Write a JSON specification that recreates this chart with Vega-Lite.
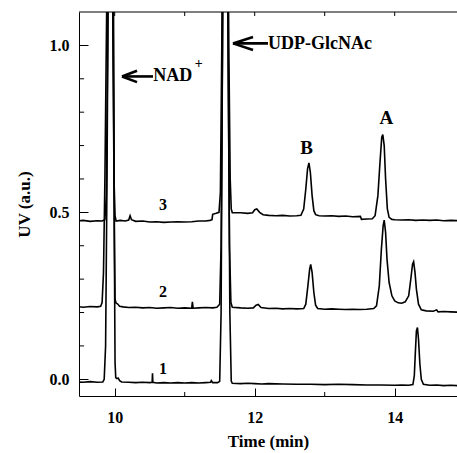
{
  "$schema": "https://vega.github.io/schema/vega-lite/v6.json",
  "width": 378,
  "height": 384,
  "autosize": {"type": "none"},
  "padding": {"left": 79, "top": 12, "right": 0, "bottom": 57},
  "background": "white",
  "config": {
    "view": {"stroke": null},
    "font": "Liberation Serif",
    "axis": {
      "domainColor": "black",
      "domainWidth": 1,
      "tickColor": "black",
      "tickWidth": 1,
      "labelFont": "Liberation Serif",
      "labelFontWeight": "bold",
      "labelFontSize": 16,
      "labelColor": "black",
      "titleFont": "Liberation Serif",
      "titleFontWeight": "bold",
      "titleFontSize": 17,
      "titleColor": "black",
      "grid": false
    }
  },
  "datasets": {
    "traces": [
      {"s": 1, "t": 9.45, "v": -0.008}, {"s": 1, "t": 9.55, "v": -0.009}, {"s": 1, "t": 9.65, "v": -0.007}, {"s": 1, "t": 9.75, "v": -0.009}, {"s": 1, "t": 9.83, "v": -0.008}, {"s": 1, "t": 9.85, "v": 0.0}, {"s": 1, "t": 9.87, "v": 0.1}, {"s": 1, "t": 9.89, "v": 0.6}, {"s": 1, "t": 9.91, "v": 1.3}, {"s": 1, "t": 9.945, "v": 2.5}, {"s": 1, "t": 9.98, "v": 1.3}, {"s": 1, "t": 9.995, "v": 0.4}, {"s": 1, "t": 10.005, "v": 0.05}, {"s": 1, "t": 10.015, "v": 0.005}, {"s": 1, "t": 10.03, "v": 0.002}, {"s": 1, "t": 10.05, "v": 0.004}, {"s": 1, "t": 10.07, "v": -0.004}, {"s": 1, "t": 10.1, "v": -0.008}, {"s": 1, "t": 10.2, "v": -0.009}, {"s": 1, "t": 10.3, "v": -0.01}, {"s": 1, "t": 10.4, "v": -0.009}, {"s": 1, "t": 10.5, "v": -0.01}, {"s": 1, "t": 10.535, "v": -0.009}, {"s": 1, "t": 10.54, "v": 0.018}, {"s": 1, "t": 10.545, "v": -0.009}, {"s": 1, "t": 10.6, "v": -0.011}, {"s": 1, "t": 10.7, "v": -0.01}, {"s": 1, "t": 10.8, "v": -0.011}, {"s": 1, "t": 10.9, "v": -0.01}, {"s": 1, "t": 11.0, "v": -0.011}, {"s": 1, "t": 11.1, "v": -0.01}, {"s": 1, "t": 11.2, "v": -0.011}, {"s": 1, "t": 11.3, "v": -0.01}, {"s": 1, "t": 11.37, "v": -0.009}, {"s": 1, "t": 11.38, "v": -0.004}, {"s": 1, "t": 11.4, "v": -0.01}, {"s": 1, "t": 11.47, "v": -0.01}, {"s": 1, "t": 11.5, "v": -0.006}, {"s": 1, "t": 11.52, "v": 0.2}, {"s": 1, "t": 11.54, "v": 1.0}, {"s": 1, "t": 11.58, "v": 2.6}, {"s": 1, "t": 11.62, "v": 1.0}, {"s": 1, "t": 11.645, "v": 0.2}, {"s": 1, "t": 11.665, "v": -0.005}, {"s": 1, "t": 11.68, "v": -0.012}, {"s": 1, "t": 11.8, "v": -0.013}, {"s": 1, "t": 11.9, "v": -0.012}, {"s": 1, "t": 12.0, "v": -0.013}, {"s": 1, "t": 12.1, "v": -0.014}, {"s": 1, "t": 12.2, "v": -0.013}, {"s": 1, "t": 12.4, "v": -0.014}, {"s": 1, "t": 12.6, "v": -0.015}, {"s": 1, "t": 12.8, "v": -0.015}, {"s": 1, "t": 13.0, "v": -0.016}, {"s": 1, "t": 13.2, "v": -0.015}, {"s": 1, "t": 13.4, "v": -0.016}, {"s": 1, "t": 13.6, "v": -0.017}, {"s": 1, "t": 13.8, "v": -0.017}, {"s": 1, "t": 14.0, "v": -0.018}, {"s": 1, "t": 14.1, "v": -0.017}, {"s": 1, "t": 14.2, "v": -0.018}, {"s": 1, "t": 14.26, "v": -0.016}, {"s": 1, "t": 14.28, "v": 0.01}, {"s": 1, "t": 14.295, "v": 0.08}, {"s": 1, "t": 14.31, "v": 0.145}, {"s": 1, "t": 14.325, "v": 0.155}, {"s": 1, "t": 14.34, "v": 0.12}, {"s": 1, "t": 14.36, "v": 0.045}, {"s": 1, "t": 14.38, "v": 0.0}, {"s": 1, "t": 14.41, "v": -0.015}, {"s": 1, "t": 14.5, "v": -0.018}, {"s": 1, "t": 14.6, "v": -0.017}, {"s": 1, "t": 14.7, "v": -0.019}, {"s": 1, "t": 14.8, "v": -0.018}, {"s": 1, "t": 14.9, "v": -0.019},

      {"s": 2, "t": 9.45, "v": 0.218}, {"s": 2, "t": 9.55, "v": 0.216}, {"s": 2, "t": 9.65, "v": 0.218}, {"s": 2, "t": 9.75, "v": 0.217}, {"s": 2, "t": 9.8, "v": 0.219}, {"s": 2, "t": 9.82, "v": 0.23}, {"s": 2, "t": 9.84, "v": 0.32}, {"s": 2, "t": 9.86, "v": 0.6}, {"s": 2, "t": 9.89, "v": 1.2}, {"s": 2, "t": 9.94, "v": 2.5}, {"s": 2, "t": 9.98, "v": 1.0}, {"s": 2, "t": 9.995, "v": 0.45}, {"s": 2, "t": 10.005, "v": 0.24}, {"s": 2, "t": 10.02, "v": 0.228}, {"s": 2, "t": 10.04, "v": 0.226}, {"s": 2, "t": 10.07, "v": 0.219}, {"s": 2, "t": 10.12, "v": 0.217}, {"s": 2, "t": 10.2, "v": 0.215}, {"s": 2, "t": 10.3, "v": 0.216}, {"s": 2, "t": 10.4, "v": 0.214}, {"s": 2, "t": 10.5, "v": 0.215}, {"s": 2, "t": 10.6, "v": 0.213}, {"s": 2, "t": 10.7, "v": 0.214}, {"s": 2, "t": 10.8, "v": 0.215}, {"s": 2, "t": 10.9, "v": 0.213}, {"s": 2, "t": 11.0, "v": 0.214}, {"s": 2, "t": 11.1, "v": 0.213}, {"s": 2, "t": 11.11, "v": 0.232}, {"s": 2, "t": 11.12, "v": 0.213}, {"s": 2, "t": 11.2, "v": 0.214}, {"s": 2, "t": 11.3, "v": 0.215}, {"s": 2, "t": 11.4, "v": 0.214}, {"s": 2, "t": 11.46, "v": 0.216}, {"s": 2, "t": 11.5, "v": 0.225}, {"s": 2, "t": 11.52, "v": 0.4}, {"s": 2, "t": 11.54, "v": 1.0}, {"s": 2, "t": 11.58, "v": 2.6}, {"s": 2, "t": 11.62, "v": 1.0}, {"s": 2, "t": 11.64, "v": 0.4}, {"s": 2, "t": 11.66, "v": 0.23}, {"s": 2, "t": 11.68, "v": 0.216}, {"s": 2, "t": 11.8, "v": 0.214}, {"s": 2, "t": 11.9, "v": 0.213}, {"s": 2, "t": 11.98, "v": 0.214}, {"s": 2, "t": 12.02, "v": 0.222}, {"s": 2, "t": 12.05, "v": 0.224}, {"s": 2, "t": 12.09, "v": 0.215}, {"s": 2, "t": 12.2, "v": 0.212}, {"s": 2, "t": 12.3, "v": 0.213}, {"s": 2, "t": 12.4, "v": 0.211}, {"s": 2, "t": 12.5, "v": 0.212}, {"s": 2, "t": 12.6, "v": 0.211}, {"s": 2, "t": 12.7, "v": 0.212}, {"s": 2, "t": 12.73, "v": 0.225}, {"s": 2, "t": 12.76, "v": 0.28}, {"s": 2, "t": 12.785, "v": 0.33}, {"s": 2, "t": 12.8, "v": 0.344}, {"s": 2, "t": 12.82, "v": 0.32}, {"s": 2, "t": 12.845, "v": 0.26}, {"s": 2, "t": 12.87, "v": 0.222}, {"s": 2, "t": 12.9, "v": 0.212}, {"s": 2, "t": 13.0, "v": 0.21}, {"s": 2, "t": 13.1, "v": 0.211}, {"s": 2, "t": 13.2, "v": 0.21}, {"s": 2, "t": 13.3, "v": 0.209}, {"s": 2, "t": 13.4, "v": 0.21}, {"s": 2, "t": 13.5, "v": 0.209}, {"s": 2, "t": 13.6, "v": 0.21}, {"s": 2, "t": 13.7, "v": 0.212}, {"s": 2, "t": 13.74, "v": 0.22}, {"s": 2, "t": 13.78, "v": 0.28}, {"s": 2, "t": 13.81, "v": 0.39}, {"s": 2, "t": 13.835, "v": 0.46}, {"s": 2, "t": 13.85, "v": 0.477}, {"s": 2, "t": 13.87, "v": 0.44}, {"s": 2, "t": 13.89, "v": 0.36}, {"s": 2, "t": 13.92, "v": 0.29}, {"s": 2, "t": 13.96, "v": 0.25}, {"s": 2, "t": 14.0, "v": 0.235}, {"s": 2, "t": 14.05, "v": 0.229}, {"s": 2, "t": 14.1, "v": 0.228}, {"s": 2, "t": 14.15, "v": 0.232}, {"s": 2, "t": 14.2, "v": 0.25}, {"s": 2, "t": 14.23, "v": 0.3}, {"s": 2, "t": 14.255, "v": 0.345}, {"s": 2, "t": 14.27, "v": 0.352}, {"s": 2, "t": 14.29, "v": 0.32}, {"s": 2, "t": 14.31, "v": 0.27}, {"s": 2, "t": 14.34, "v": 0.225}, {"s": 2, "t": 14.38, "v": 0.208}, {"s": 2, "t": 14.45, "v": 0.205}, {"s": 2, "t": 14.55, "v": 0.204}, {"s": 2, "t": 14.6, "v": 0.208}, {"s": 2, "t": 14.62, "v": 0.202}, {"s": 2, "t": 14.7, "v": 0.203}, {"s": 2, "t": 14.8, "v": 0.202}, {"s": 2, "t": 14.9, "v": 0.201},

      {"s": 3, "t": 9.45, "v": 0.474}, {"s": 3, "t": 9.55, "v": 0.476}, {"s": 3, "t": 9.65, "v": 0.473}, {"s": 3, "t": 9.75, "v": 0.475}, {"s": 3, "t": 9.82, "v": 0.474}, {"s": 3, "t": 9.86, "v": 0.478}, {"s": 3, "t": 9.88, "v": 0.55}, {"s": 3, "t": 9.9, "v": 1.0}, {"s": 3, "t": 9.94, "v": 2.5}, {"s": 3, "t": 9.975, "v": 1.0}, {"s": 3, "t": 9.99, "v": 0.6}, {"s": 3, "t": 10.005, "v": 0.49}, {"s": 3, "t": 10.02, "v": 0.474}, {"s": 3, "t": 10.08, "v": 0.476}, {"s": 3, "t": 10.15, "v": 0.474}, {"s": 3, "t": 10.2, "v": 0.477}, {"s": 3, "t": 10.22, "v": 0.49}, {"s": 3, "t": 10.24, "v": 0.478}, {"s": 3, "t": 10.3, "v": 0.473}, {"s": 3, "t": 10.4, "v": 0.474}, {"s": 3, "t": 10.5, "v": 0.471}, {"s": 3, "t": 10.6, "v": 0.472}, {"s": 3, "t": 10.7, "v": 0.47}, {"s": 3, "t": 10.8, "v": 0.471}, {"s": 3, "t": 10.9, "v": 0.472}, {"s": 3, "t": 11.0, "v": 0.471}, {"s": 3, "t": 11.1, "v": 0.472}, {"s": 3, "t": 11.2, "v": 0.474}, {"s": 3, "t": 11.3, "v": 0.474}, {"s": 3, "t": 11.36, "v": 0.476}, {"s": 3, "t": 11.39, "v": 0.478}, {"s": 3, "t": 11.4, "v": 0.494}, {"s": 3, "t": 11.45, "v": 0.497}, {"s": 3, "t": 11.49, "v": 0.5}, {"s": 3, "t": 11.51, "v": 0.56}, {"s": 3, "t": 11.53, "v": 1.0}, {"s": 3, "t": 11.58, "v": 2.6}, {"s": 3, "t": 11.63, "v": 1.0}, {"s": 3, "t": 11.65, "v": 0.6}, {"s": 3, "t": 11.665, "v": 0.51}, {"s": 3, "t": 11.68, "v": 0.499}, {"s": 3, "t": 11.8, "v": 0.499}, {"s": 3, "t": 11.9, "v": 0.497}, {"s": 3, "t": 11.97, "v": 0.499}, {"s": 3, "t": 12.0, "v": 0.508}, {"s": 3, "t": 12.03, "v": 0.51}, {"s": 3, "t": 12.07, "v": 0.5}, {"s": 3, "t": 12.12, "v": 0.493}, {"s": 3, "t": 12.2, "v": 0.491}, {"s": 3, "t": 12.3, "v": 0.49}, {"s": 3, "t": 12.4, "v": 0.491}, {"s": 3, "t": 12.5, "v": 0.489}, {"s": 3, "t": 12.6, "v": 0.49}, {"s": 3, "t": 12.66, "v": 0.491}, {"s": 3, "t": 12.7, "v": 0.51}, {"s": 3, "t": 12.73, "v": 0.57}, {"s": 3, "t": 12.755, "v": 0.63}, {"s": 3, "t": 12.775, "v": 0.648}, {"s": 3, "t": 12.795, "v": 0.62}, {"s": 3, "t": 12.82, "v": 0.55}, {"s": 3, "t": 12.845, "v": 0.505}, {"s": 3, "t": 12.87, "v": 0.493}, {"s": 3, "t": 12.92, "v": 0.49}, {"s": 3, "t": 13.0, "v": 0.489}, {"s": 3, "t": 13.1, "v": 0.49}, {"s": 3, "t": 13.2, "v": 0.488}, {"s": 3, "t": 13.3, "v": 0.489}, {"s": 3, "t": 13.4, "v": 0.487}, {"s": 3, "t": 13.51, "v": 0.488}, {"s": 3, "t": 13.525, "v": 0.479}, {"s": 3, "t": 13.6, "v": 0.48}, {"s": 3, "t": 13.68, "v": 0.481}, {"s": 3, "t": 13.72, "v": 0.49}, {"s": 3, "t": 13.76, "v": 0.55}, {"s": 3, "t": 13.79, "v": 0.65}, {"s": 3, "t": 13.815, "v": 0.725}, {"s": 3, "t": 13.83, "v": 0.733}, {"s": 3, "t": 13.85, "v": 0.7}, {"s": 3, "t": 13.87, "v": 0.6}, {"s": 3, "t": 13.895, "v": 0.51}, {"s": 3, "t": 13.92, "v": 0.485}, {"s": 3, "t": 13.96, "v": 0.479}, {"s": 3, "t": 14.0, "v": 0.478}, {"s": 3, "t": 14.1, "v": 0.477}, {"s": 3, "t": 14.2, "v": 0.478}, {"s": 3, "t": 14.3, "v": 0.476}, {"s": 3, "t": 14.4, "v": 0.477}, {"s": 3, "t": 14.5, "v": 0.476}, {"s": 3, "t": 14.6, "v": 0.477}, {"s": 3, "t": 14.7, "v": 0.475}, {"s": 3, "t": 14.8, "v": 0.476}, {"s": 3, "t": 14.9, "v": 0.475}
    ],
    "arrows": [
      {"seg": "n1", "t": 10.319, "v": 0.924}, {"seg": "n1", "t": 10.104, "v": 0.907},
      {"seg": "n2", "t": 10.319, "v": 0.89}, {"seg": "n2", "t": 10.104, "v": 0.907},
      {"seg": "n3", "t": 10.104, "v": 0.907}, {"seg": "n3", "t": 10.547, "v": 0.907},
      {"seg": "u1", "t": 11.976, "v": 1.025}, {"seg": "u1", "t": 11.69, "v": 1.006},
      {"seg": "u2", "t": 11.976, "v": 0.986}, {"seg": "u2", "t": 11.69, "v": 1.006},
      {"seg": "u3", "t": 11.69, "v": 1.006}, {"seg": "u3", "t": 12.19, "v": 1.006}
    ],
    "topticks": [
      {"t": 10}, {"t": 11}, {"t": 12}, {"t": 13}, {"t": 14}
    ],
    "xminor": [
      {"t": 11}, {"t": 13}
    ],
    "yminor": [
      {"v": 0.1}, {"v": 0.2}, {"v": 0.3}, {"v": 0.4}, {"v": 0.6}, {"v": 0.7}, {"v": 0.8}, {"v": 0.9}
    ],
    "nums": [
      {"t": 10.69, "v": 0.522, "label": "3"},
      {"t": 10.69, "v": 0.262, "label": "2"},
      {"t": 10.69, "v": 0.032, "label": "1"}
    ],
    "peaks": [
      {"t": 12.74, "v": 0.693, "label": "B"},
      {"t": 13.88, "v": 0.783, "label": "A"}
    ],
    "names": [
      {"t": 10.55, "v": 0.892, "label": "NAD"},
      {"t": 12.19, "v": 0.988, "label": "UDP-GlcNAc"}
    ],
    "sup": [
      {"t": 11.2, "v": 0.945, "label": "+"}
    ]
  },
  "layer": [
    {
      "data": {"name": "traces"},
      "mark": {"type": "line", "clip": true, "color": "black", "strokeWidth": 1.6, "interpolate": "linear"},
      "encoding": {
        "x": {"field": "t", "type": "quantitative",
              "scale": {"domain": [9.49, 14.89], "nice": false, "zero": false},
              "axis": {"orient": "bottom", "values": [10, 12, 14], "format": "d",
                       "labelFlush": false, "tickSize": -8,
                       "labelPadding": 21, "title": "Time (min)", "titlePadding": 8}},
        "y": {"field": "v", "type": "quantitative",
              "scale": {"domain": [-0.05, 1.1], "nice": false, "zero": false},
              "axis": {"orient": "left", "values": [0, 0.5, 1.0], "format": ".1f",
                       "tickSize": -9,
                       "labelPadding": 19, "title": "UV (a.u.)", "titlePadding": 16}},
        "detail": {"field": "s", "type": "nominal"}
      }
    },
    {
      "data": {"name": "arrows"},
      "mark": {"type": "line", "clip": true, "color": "black", "strokeWidth": 2.6},
      "encoding": {
        "x": {"field": "t", "type": "quantitative"},
        "y": {"field": "v", "type": "quantitative"},
        "detail": {"field": "seg", "type": "nominal"}
      }
    },
    {
      "data": {"name": "topticks"},
      "mark": {"type": "rule", "color": "black", "strokeWidth": 1},
      "encoding": {
        "x": {"field": "t", "type": "quantitative"},
        "y": {"datum": 1.1},
        "y2": {"datum": 1.088}
      }
    },
    {
      "data": {"name": "xminor"},
      "mark": {"type": "rule", "color": "black", "strokeWidth": 1},
      "encoding": {
        "x": {"field": "t", "type": "quantitative"},
        "y": {"datum": -0.05},
        "y2": {"datum": -0.038}
      }
    },
    {
      "data": {"name": "yminor"},
      "mark": {"type": "rule", "color": "black", "strokeWidth": 1},
      "encoding": {
        "y": {"field": "v", "type": "quantitative"},
        "x": {"datum": 9.49},
        "x2": {"datum": 9.563}
      }
    },
    {
      "data": {"values": [{}]},
      "mark": {"type": "rule", "color": "black", "strokeWidth": 1},
      "encoding": {
        "x": {"datum": 9.49},
        "x2": {"datum": 14.89},
        "y": {"datum": 1.1}
      }
    },
    {
      "data": {"name": "nums"},
      "mark": {"type": "text", "font": "Liberation Serif", "fontWeight": "bold", "fontSize": 16, "fill": "black", "align": "center", "baseline": "middle"},
      "encoding": {
        "x": {"field": "t", "type": "quantitative"},
        "y": {"field": "v", "type": "quantitative"},
        "text": {"field": "label"}
      }
    },
    {
      "data": {"name": "peaks"},
      "mark": {"type": "text", "font": "Liberation Serif", "fontWeight": "bold", "fontSize": 19, "fill": "black", "align": "center", "baseline": "middle"},
      "encoding": {
        "x": {"field": "t", "type": "quantitative"},
        "y": {"field": "v", "type": "quantitative"},
        "text": {"field": "label"}
      }
    },
    {
      "data": {"name": "names"},
      "mark": {"type": "text", "font": "Liberation Serif", "fontWeight": "bold", "fontSize": 18, "fill": "black", "align": "left", "baseline": "alphabetic"},
      "encoding": {
        "x": {"field": "t", "type": "quantitative"},
        "y": {"field": "v", "type": "quantitative"},
        "text": {"field": "label"}
      }
    },
    {
      "data": {"name": "sup"},
      "mark": {"type": "text", "font": "Liberation Serif", "fontWeight": "bold", "fontSize": 14, "fill": "black", "align": "center", "baseline": "middle"},
      "encoding": {
        "x": {"field": "t", "type": "quantitative"},
        "y": {"field": "v", "type": "quantitative"},
        "text": {"field": "label"}
      }
    }
  ]
}
